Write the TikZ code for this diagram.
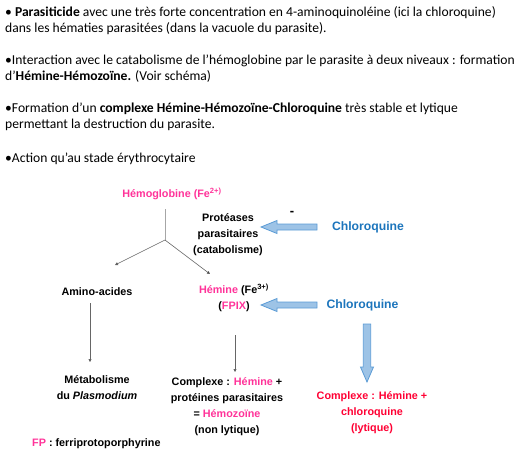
\documentclass[tikz,border=0pt]{standalone}
\usepackage{fontspec}
\setmainfont{Carlito}
\newfontfamily\arialf{Liberation Sans}
\usetikzlibrary{calc,arrows.meta}
\definecolor{pinkc}{HTML}{FF3399}
\definecolor{redc}{HTML}{FF0033}
\definecolor{bluec}{HTML}{1C75BC}
\definecolor{blkfill}{HTML}{9DC3E6}
\definecolor{blkdraw}{HTML}{5B9BD5}
\tikzset{
  para/.style={anchor=base west, inner sep=0pt, font=\fontsize{13.6}{16}\selectfont},
  dt/.style={inner sep=0pt, align=center, font=\arialf\bfseries\fontsize{10.8}{16}\selectfont},
  chl/.style={inner sep=0pt, text=bluec, font=\arialf\bfseries\fontsize{12.2}{14}\selectfont},
  thinarrow/.style={draw=gray!80!black, line width=0.6pt, -{Triangle[length=3pt,width=3pt,fill=black]}},
  blk/.style={fill=blkfill, draw=blkdraw, line width=0.8pt, line join=miter},
}
\begin{document}
\begin{tikzpicture}[x=1pt,y=-1pt]
\useasboundingbox (0,0) rectangle (528,450);
% top paragraphs
\node[para] (l1) at (5,16) {• \textbf{Parasiticide} avec une très forte concentration en 4-aminoquinoléine (ici la chloroquine)};
\node[para] (l2) at (5,32) {dans les hématies parasitées (dans la vacuole du parasite).};
\node[para] (l3) at (5,64) {•Interaction avec le catabolisme de l’hémoglobine par le parasite à deux niveaux : formation};
\node[para] (l4) at (5,80) {d’\textbf{Hémine-Hémozoïne.} (Voir schéma)};
\node[para] (l5) at (5,112) {•Formation d’un \textbf{complexe Hémine-Hémozoïne-Chloroquine} très stable et lytique};
\node[para] (l6) at (5,128) {permettant la destruction du parasite.};
\node[para] (l7) at (5,162) {•Action qu’au stade érythrocytaire};
% diagram nodes
\node[dt, anchor=base, text=pinkc] (hemo) at (172,197) {Hémoglobine (Fe\textsuperscript{2+)}};
\node[dt] (prot) at (228,235) {Protéases\\parasitaires\\(catabolisme)};
\node[dt, font=\arialf\bfseries\fontsize{13}{14}\selectfont] (minus) at (292,213) {-};
\node[chl] (chl1) at (368,227) {Chloroquine};
\node[dt] (amino) at (97,292) {Amino-acides};
\node[dt] (hemine) at (234,297.5) {\textcolor{pinkc}{Hémine} (Fe\textsuperscript{3+)}\\(\textcolor{pinkc}{FPIX})};
\node[chl] (chl2) at (362.5,305) {Chloroquine};
\node[dt] (metab) at (97,388) {Métabolisme\\du \textit{Plasmodium}};
\node[dt] (hemoz) at (227,407) {Complexe : \textcolor{pinkc}{Hémine} +\\protéines parasitaires\\= \textcolor{pinkc}{Hémozoïne}\\(non lytique)};
\node[dt, text=redc] (lyt) at (372,413) {Complexe : Hémine +\\chloroquine\\(lytique)};
\node[dt, anchor=west] (fp) at (32,444) {\textcolor{pinkc}{FP} : ferriprotoporphyrine};
% connectors
\coordinate (stem) at (165,209);
\coordinate (split) at (165,240);
\coordinate (aaend) at (115,265);
\coordinate (hmend) at (210,274);
\draw[draw=gray!70, line width=0.8pt] (stem) -- (split);
\draw[thinarrow] (split) -- (aaend);
\draw[thinarrow] (split) -- (hmend);
\coordinate (a1) at (90,303);
\coordinate (a2) at (90,362);
\draw[thinarrow] (a1) -- (a2);
\coordinate (b1) at (235,335);
\coordinate (b2) at (235,372);
\draw[thinarrow] (b1) -- (b2);
% block arrows
\coordinate (tip1) at (261,227);
\filldraw[blk] (tip1) -- ++(16,-6.5) -- ++(0,3.5) -- ++(40,0) -- ++(0,6) -- ++(-40,0) -- ++(0,3.5) -- cycle;
\coordinate (tip2) at (261,305);
\filldraw[blk] (tip2) -- ++(16,-6.5) -- ++(0,3.5) -- ++(40,0) -- ++(0,6) -- ++(-40,0) -- ++(0,3.5) -- cycle;
\coordinate (tip3) at (367,382);
\filldraw[blk] (tip3) -- ++(-6.5,-15) -- ++(2.8,0) -- ++(0,-43) -- ++(7.4,0) -- ++(0,43) -- ++(2.8,0) -- cycle;
\end{tikzpicture}
\end{document}
